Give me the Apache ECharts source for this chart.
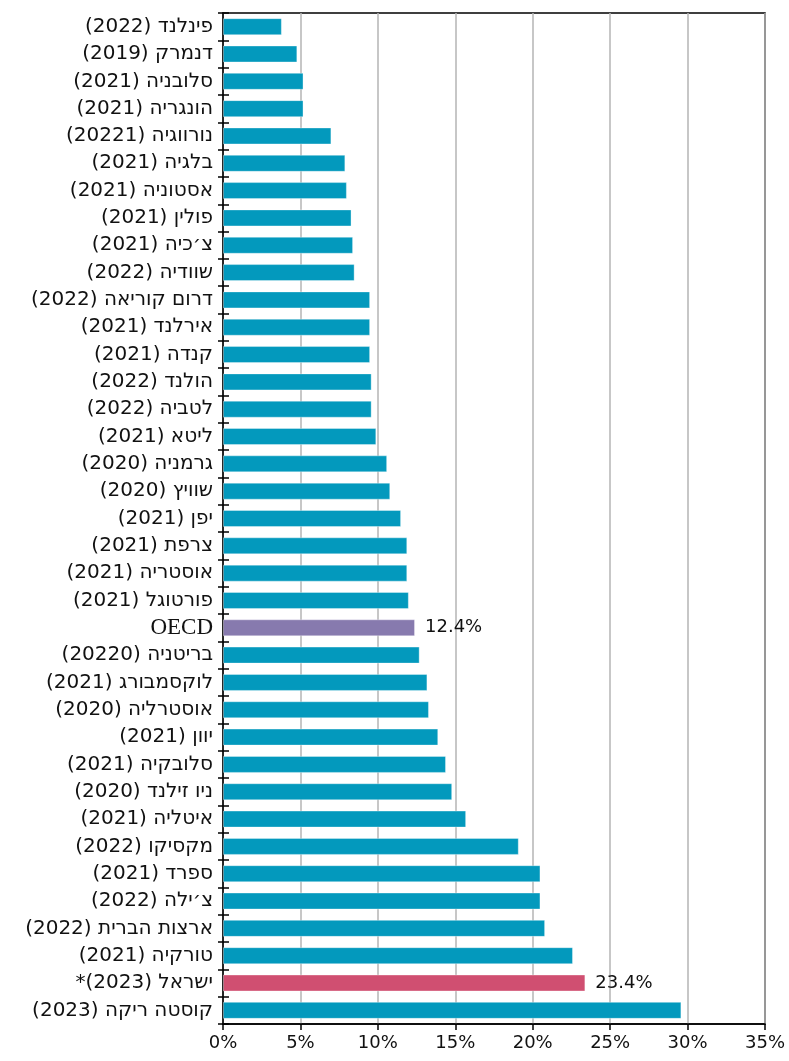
<!DOCTYPE html>
<html>
<head>
<meta charset="utf-8">
<script src="https://cdn.jsdelivr.net/npm/echarts@6/dist/echarts.min.js"></script>
<style>
  html, body { margin: 0; padding: 0; background: #fff; }
  #chart { width: 789px; height: 1061px; }
</style>
</head>
<body>
<!-- rtl so the canvas lays out the Hebrew labels right-to-left -->
<div id="chart" dir="rtl"></div>
<script>
// categories, top to bottom
const countries = [
  'פינלנד (2022)', 'דנמרק (2019)', 'סלובניה (2021)', 'הונגריה (2021)',
  'נורווגיה (20221)', 'בלגיה (2021)', 'אסטוניה (2021)', 'פולין (2021)',
  'צ׳כיה (2021)', 'שוודיה (2022)', 'דרום קוריאה (2022)', 'אירלנד (2021)',
  'קנדה (2021)', 'הולנד (2022)', 'לטביה (2022)', 'ליטא (2021)',
  'גרמניה (2020)', 'שוויץ (2020)', 'יפן (2021)', 'צרפת (2021)',
  'אוסטריה (2021)', 'פורטוגל (2021)', 'OECD', 'בריטניה (20220)',
  'לוקסמבורג (2021)', 'אוסטרליה (2020)', 'יוון (2021)', 'סלובקיה (2021)',
  'ניו זילנד (2020)', 'איטליה (2021)', 'מקסיקו (2022)', 'ספרד (2021)',
  'צ׳ילה (2022)', 'ארצות הברית (2022)', 'טורקיה (2021)', 'ישראל (2023)*',
  'קוסטה ריקה (2023)'
];

// share, percent
const values = [
  3.8, 4.8, 5.2, 5.2,
  7.0, 7.9, 8.0, 8.3,
  8.4, 8.5, 9.5, 9.5,
  9.5, 9.6, 9.6, 9.9,
  10.6, 10.8, 11.5, 11.9,
  11.9, 12.0, 12.4, 12.7,
  13.2, 13.3, 13.9, 14.4,
  14.8, 15.7, 19.1, 20.5,
  20.5, 20.8, 22.6, 23.4,
  29.6
];

// which bars get a value label
const labelled = ['OECD', 'ישראל (2023)*'];

const xTicks = [0, 5, 10, 15, 20, 25, 30, 35];

const BAR = '#0399bd';
const OECD_COLOR = '#877aae';
const ISRAEL_COLOR = '#d04f71';

const seriesData = values.map((v, i) => {
  const name = countries[i];
  let color = BAR;
  if (name === 'OECD') color = OECD_COLOR;
  if (name === 'ישראל (2023)*') color = ISRAEL_COLOR;
  return {
    value: v,
    itemStyle: { color: color },
    label: { show: labelled.includes(name) }
  };
});

const chart = echarts.init(document.getElementById('chart'));

chart.setOption({
  animation: false,
  grid: {
    left: 223, right: 24, top: 13, bottom: 37,
    show: true, borderColor: '#000', borderWidth: 1.5
  },
  xAxis: {
    type: 'value',
    min: xTicks[0],
    max: xTicks[xTicks.length - 1],
    interval: 5,
    axisLine: { show: true, lineStyle: { color: '#000', width: 1.5 } },
    axisTick: { show: true, length: 6, lineStyle: { color: '#000', width: 1.5 } },
    axisLabel: {
      formatter: '{value}%',
      fontFamily: 'DejaVu Sans',
      fontSize: 18,
      color: '#111',
      margin: 10
    },
    splitLine: { show: true, lineStyle: { color: '#b4b4b4', width: 1.5 } }
  },
  yAxis: [
    {
      type: 'category',
      data: countries,
      inverse: true,
      axisLine: { show: true, lineStyle: { color: '#000', width: 1.5 } },
      axisTick: { show: true, length: 5, lineStyle: { color: '#000', width: 1.5 } },
      axisLabel: {
        margin: 10,
        fontFamily: 'DejaVu Sans',
        fontSize: 20,
        color: '#111',
        formatter: function (v) {
          return v === 'OECD' ? '{serif|' + v + '}' : v;
        },
        rich: {
          serif: { fontFamily: 'Liberation Serif', fontSize: 23, color: '#111' }
        }
      }
    },
    {
      // second copy only to get the inner half of the ticks
      type: 'category',
      data: countries,
      inverse: true,
      position: 'left',
      axisLine: { show: false },
      axisTick: { show: true, inside: true, length: 6, lineStyle: { color: '#000', width: 1.5 } },
      axisLabel: { show: false }
    }
  ],
  series: [{
    type: 'bar',
    data: seriesData,
    barWidth: 17,
    itemStyle: { borderColor: 'rgba(255,255,255,0.35)', borderWidth: 1 },
    label: {
      position: 'right',
      distance: 10,
      formatter: '{c}%',
      fontFamily: 'DejaVu Sans',
      fontSize: 18,
      color: '#111'
    }
  }]
});
</script>
</body>
</html>
